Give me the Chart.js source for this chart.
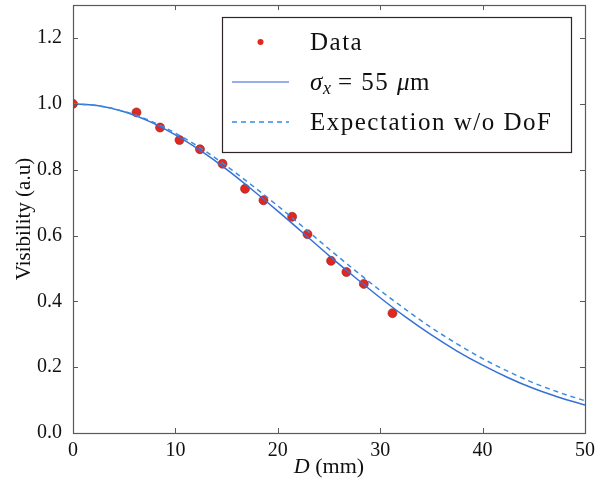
<!DOCTYPE html>
<html>
<head>
<meta charset="utf-8">
<script src="https://cdn.jsdelivr.net/npm/chart.js@4.4.1/dist/chart.umd.min.js"></script>
<style>
  html, body { margin: 0; padding: 0; background: #fff; }
  #wrap { width: 610px; height: 485px; }
</style>
</head>
<body>
<div id="wrap"><canvas id="visChart" width="610" height="485"></canvas></div>
<script>
// measured visibility vs. distance D (mm)
const dMeasured = [0, 6.2, 8.5, 10.4, 12.4, 14.6, 16.8, 18.6, 21.4, 22.9, 25.2, 26.7, 28.4, 31.2];
const vMeasured = [1.0, 0.974, 0.928, 0.890, 0.862, 0.818, 0.742, 0.707, 0.657, 0.604, 0.523, 0.489, 0.453, 0.364];

// curves sampled every 2.5 mm
const dCurve = [0, 2.5, 5, 7.5, 10, 12.5, 15, 17.5, 20, 22.5, 25, 27.5, 30, 32.5, 35, 37.5, 40, 42.5, 45, 47.5, 50];
const vFit = [1.0, 0.994, 0.976, 0.946, 0.906, 0.857, 0.801, 0.739, 0.674, 0.607, 0.539, 0.474, 0.411, 0.352, 0.298, 0.249, 0.206, 0.168, 0.135, 0.108, 0.085];
const vNoDof = [1.0, 0.994, 0.977, 0.949, 0.911, 0.865, 0.811, 0.752, 0.690, 0.625, 0.559, 0.495, 0.433, 0.375, 0.320, 0.271, 0.226, 0.187, 0.152, 0.123, 0.098];

const xTicks = [0, 10, 20, 30, 40, 50];
const yTicks = [0, 0.2, 0.4, 0.6, 0.8, 1.0, 1.2];

const SERIF = "'Liberation Serif', 'Times New Roman', serif";
const FRAME = "#625656";
const RED = "#e2281e";
const BLUE = "#3570d8";
const BLUE_DASH = "#3a8ae2";

function pairs(xs, ys) {
  return xs.map((x, i) => ({ x, y: ys[i] }));
}

// box round the axes with short inward ticks on every side
const framePlugin = {
  id: "frame",
  afterDatasetsDraw(chart) {
    const { ctx, chartArea: a, scales } = chart;
    ctx.save();
    ctx.strokeStyle = FRAME;
    ctx.lineWidth = 1;
    ctx.beginPath();
    for (const v of xTicks) {
      const px = Math.round(scales.x.getPixelForValue(v)) + 0.5;
      ctx.moveTo(px, a.bottom); ctx.lineTo(px, a.bottom - 5);
      ctx.moveTo(px, a.top); ctx.lineTo(px, a.top + 5);
    }
    for (const v of yTicks) {
      const py = Math.round(scales.y.getPixelForValue(v)) + 0.5;
      ctx.moveTo(a.left, py); ctx.lineTo(a.left + 5, py);
      ctx.moveTo(a.right, py); ctx.lineTo(a.right - 5, py);
    }
    ctx.stroke();
    ctx.lineWidth = 1.2;
    ctx.strokeRect(Math.round(a.left) + 0.5, Math.round(a.top) + 0.5,
      Math.round(a.right - a.left), Math.round(a.bottom - a.top));

    // x axis title with italic D
    ctx.fillStyle = "#111";
    ctx.textBaseline = "alphabetic";
    const cx = (a.left + a.right) / 2;
    ctx.font = "italic 22px " + SERIF;
    const wD = ctx.measureText("D").width;
    ctx.font = "22px " + SERIF;
    const wRest = ctx.measureText(" (mm)").width;
    const x0 = cx - (wD + wRest) / 2;
    ctx.font = "italic 22px " + SERIF;
    ctx.fillText("D", x0, 473);
    ctx.font = "22px " + SERIF;
    ctx.fillText(" (mm)", x0 + wD, 473);
    ctx.restore();
  },
  afterDraw(chart) {
    const { ctx } = chart;
    ctx.save();
    // legend box
    ctx.fillStyle = "#fff";
    ctx.fillRect(222, 17, 349, 135);
    ctx.strokeStyle = "#2e2626";
    ctx.lineWidth = 1.2;
    ctx.strokeRect(222.5, 17.5, 349, 135);

    // Data marker
    ctx.fillStyle = RED;
    ctx.beginPath();
    ctx.arc(260.5, 42, 3, 0, Math.PI * 2);
    ctx.fill();

    // solid sample
    ctx.strokeStyle = "#7393e2";
    ctx.lineWidth = 1.5;
    ctx.beginPath();
    ctx.moveTo(232, 82); ctx.lineTo(289, 82);
    ctx.stroke();

    // dashed sample
    ctx.strokeStyle = BLUE_DASH;
    ctx.setLineDash([5, 4]);
    ctx.beginPath();
    ctx.moveTo(232, 122); ctx.lineTo(289, 122);
    ctx.stroke();
    ctx.setLineDash([]);

    ctx.fillStyle = "#111";
    ctx.textBaseline = "alphabetic";
    ctx.letterSpacing = "1.5px";
    ctx.font = "25px " + SERIF;
    ctx.fillText("Data", 310, 50);

    ctx.font = "italic 25px " + SERIF;
    ctx.fillText("σ", 310, 90);
    ctx.font = "italic 18px " + SERIF;
    ctx.fillText("x", 323, 94);
    ctx.font = "25px " + SERIF;
    ctx.fillText("= 55", 338, 90);
    ctx.font = "italic 25px " + SERIF;
    ctx.fillText("μ", 397, 90);
    ctx.font = "25px " + SERIF;
    ctx.fillText("m", 410, 90);

    ctx.fillText("Expectation w/o DoF", 310, 130);
    ctx.restore();
  },
};

new Chart(document.getElementById("visChart"), {
  type: "scatter",
  data: {
    datasets: [
      {
        label: "Data",
        data: pairs(dMeasured, vMeasured),
        showLine: false,
        pointRadius: 4.5,
        pointBackgroundColor: RED,
        pointBorderColor: "#8a2020",
        pointBorderWidth: 0.6,
        order: 3,
      },
      {
        label: "σx = 55 μm",
        data: pairs(dCurve, vFit),
        showLine: true,
        borderColor: BLUE,
        borderWidth: 1.5,
        pointRadius: 0,
        cubicInterpolationMode: "monotone",
        order: 2,
      },
      {
        label: "Expectation w/o DoF",
        data: pairs(dCurve, vNoDof),
        showLine: true,
        borderColor: BLUE_DASH,
        borderWidth: 1.5,
        borderDash: [5, 4],
        pointRadius: 0,
        cubicInterpolationMode: "monotone",
        order: 1,
      },
    ],
  },
  options: {
    responsive: false,
    animation: false,
    events: [],
    layout: { padding: { top: 3, right: 25, left: 0, bottom: 0 } },
    plugins: {
      legend: { display: false },
      tooltip: { enabled: false },
    },
    scales: {
      x: {
        type: "linear",
        min: 0,
        max: 50,
        afterBuildTicks(scale) {
          scale.ticks = xTicks.map((value) => ({ value }));
        },
        afterFit(scale) {
          scale.height = 52;
          scale.paddingLeft = 0;
          scale.paddingRight = 0;
        },
        grid: { display: false },
        border: { display: false },
        ticks: {
          color: "#111",
          font: { family: SERIF, size: 20 },
          padding: -2,
          maxRotation: 0,
          callback: (v) => String(v),
        },
      },
      y: {
        type: "linear",
        min: 0,
        max: 1.3,
        afterBuildTicks(scale) {
          scale.ticks = yTicks.map((value) => ({ value }));
        },
        afterFit(scale) {
          scale.width = 73;
          scale.paddingTop = 0;
          scale.paddingBottom = 0;
        },
        grid: { display: false },
        border: { display: false },
        ticks: {
          color: "#111",
          font: { family: SERIF, size: 20 },
          padding: 3,
          callback: (v) => v.toFixed(1),
        },
        title: {
          display: true,
          text: "Visibility (a.u)",
          color: "#111",
          font: { family: SERIF, size: 21 },
          padding: { top: 12, bottom: 0 },
        },
      },
    },
  },
  plugins: [framePlugin],
});
</script>
</body>
</html>
